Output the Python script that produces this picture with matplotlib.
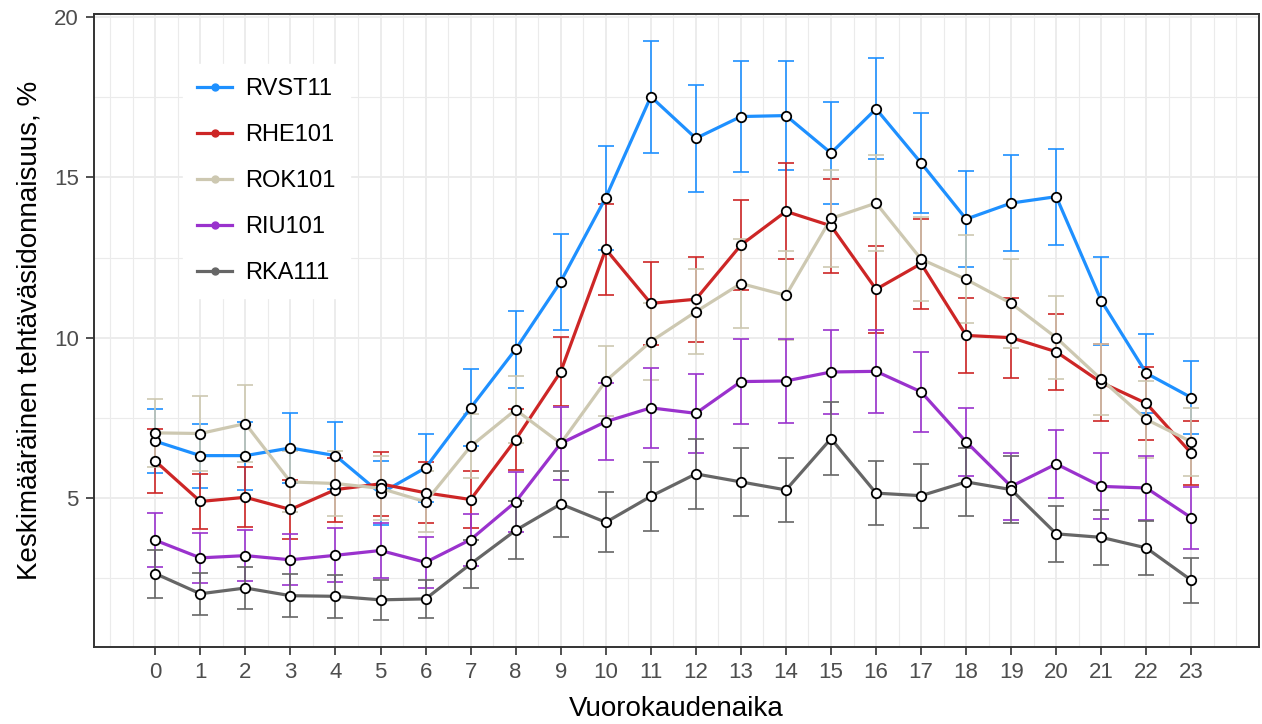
import numpy as np
import matplotlib
matplotlib.use("Agg")
import matplotlib.pyplot as plt

plt.rcParams["font.family"] = ["Liberation Sans", "DejaVu Sans"]

hours = list(range(24))

# mean task-boundness (%) by hour, with half-width of the error bars
rvst11 = [6.77, 6.32, 6.32, 6.56, 6.32, 5.14, 5.94, 7.81, 9.64, 11.75, 14.37, 17.52,
          16.22, 16.90, 16.93, 15.76, 17.14, 15.45, 13.70, 14.20, 14.40, 11.15, 8.89, 8.13]
rvst11_err = [1.0, 1.0, 1.06, 1.1, 1.05, 1.0, 1.07, 1.2, 1.2, 1.5, 1.62, 1.75,
              1.66, 1.72, 1.7, 1.6, 1.58, 1.56, 1.5, 1.5, 1.5, 1.37, 1.24, 1.15]

rhe101 = [6.15, 4.89, 5.02, 4.64, 5.26, 5.44, 5.16, 4.95, 6.82, 8.94, 12.76, 11.07,
          11.20, 12.89, 13.94, 13.49, 11.51, 12.31, 10.07, 10.00, 9.56, 8.60, 7.95, 6.39]
rhe101_err = [1.0, 0.85, 0.93, 0.93, 1.0, 1.0, 0.95, 0.88, 0.95, 1.07, 1.42, 1.3,
              1.32, 1.4, 1.5, 1.47, 1.35, 1.4, 1.17, 1.25, 1.18, 1.2, 1.13, 1.0]

rok101 = [7.03, 7.01, 7.32, 5.50, 5.45, 5.30, 4.88, 6.61, 7.75, 6.70, 8.65, 9.88,
          10.81, 11.69, 11.32, 13.72, 14.20, 12.45, 11.82, 11.07, 10.00, 8.70, 7.45, 6.75]
rok101_err = [1.05, 1.17, 1.2, 0.95, 1.0, 1.0, 0.95, 1.0, 1.05, 1.15, 1.1, 1.2,
              1.33, 1.4, 1.4, 1.5, 1.5, 1.3, 1.37, 1.4, 1.3, 1.1, 1.2, 1.06]

riu101 = [3.68, 3.13, 3.20, 3.07, 3.21, 3.36, 2.99, 3.70, 4.88, 6.70, 7.38, 7.81,
          7.64, 8.63, 8.65, 8.93, 8.95, 8.31, 6.75, 5.36, 6.06, 5.36, 5.31, 4.38]
riu101_err = [0.85, 0.77, 0.8, 0.8, 0.84, 0.85, 0.8, 0.81, 0.93, 1.15, 1.2, 1.25,
              1.23, 1.32, 1.3, 1.3, 1.3, 1.25, 1.06, 1.05, 1.07, 1.03, 1.0, 0.96]

rka111 = [2.64, 2.01, 2.19, 1.95, 1.93, 1.82, 1.85, 2.94, 3.99, 4.81, 4.24, 5.05,
          5.75, 5.50, 5.25, 6.85, 5.15, 5.07, 5.50, 5.26, 3.88, 3.77, 3.44, 2.43]
rka111_err = [0.75, 0.66, 0.65, 0.68, 0.68, 0.62, 0.6, 0.75, 0.9, 1.03, 0.94, 1.07,
              1.08, 1.06, 1.0, 1.15, 1.0, 1.0, 1.07, 1.05, 0.87, 0.85, 0.85, 0.7]

names = ["RVST11", "RHE101", "ROK101", "RIU101", "RKA111"]
values = [rvst11, rhe101, rok101, riu101, rka111]
errors = [rvst11_err, rhe101_err, rok101_err, riu101_err, rka111_err]
colors = ["#1E90FF", "#CD2626", "#CDC8B1", "#9A32CD", "#666666"]

fig = plt.figure(figsize=(12.62, 7.24), dpi=100)
ax = fig.add_axes([0.0745, 0.1064, 0.9231, 0.8743])

# grid: majors on whole hours / every 5 %, minors halfway
ax.set_xlim(-1.36, 24.37)
ax.set_ylim(0.35, 20.1)
ax.set_xticks(hours)
ax.set_xticks(np.arange(-1, 25, 0.5), minor=True)
ax.set_yticks([5, 10, 15, 20])
ax.set_yticks([2.5, 7.5, 12.5, 17.5], minor=True)
ax.grid(which="major", color="#EBEBEB", linewidth=1.3, zorder=0)
ax.grid(which="minor", color="#EBEBEB", linewidth=0.8, zorder=0)
ax.set_axisbelow(True)

for v, e, c in zip(values, errors, colors):
    ax.errorbar(hours, v, yerr=e, fmt="none", ecolor=c, elinewidth=1.2,
                capsize=6, capthick=1.2, zorder=2)

for name, v, c in zip(names, values, colors):
    ax.plot(hours, v, color=c, linewidth=2.3, zorder=3)
    # legend handle: line with a small filled dot
    ax.plot([], [], color=c, linewidth=2.3, marker="o", markersize=5,
            label=name)

for v in values:
    ax.plot(hours, v, linestyle="none", marker="o", markersize=6.8,
            markerfacecolor="white", markeredgecolor="black",
            markeredgewidth=1.3, zorder=4)

for side in ax.spines.values():
    side.set_color("#333333")
    side.set_linewidth(1.4)

ax.tick_params(which="major", length=6, width=1.2, color="#333333",
               labelcolor="#4D4D4D", labelsize=16, pad=5)
ax.tick_params(which="minor", length=0)

ax.set_xlabel("Vuorokaudenaika", fontsize=20, labelpad=9)
ax.set_ylabel("Keskimääräinen tehtäväsidonnaisuus, %", fontsize=20, labelpad=8)

leg = ax.legend(loc="upper left", bbox_to_anchor=(0.066, 0.94), fontsize=17,
                frameon=True, fancybox=False, edgecolor="white",
                framealpha=1.0, handlelength=1.5, handletextpad=0.55,
                labelspacing=1.02, borderpad=0.6)
leg.set_zorder(5)

fig.savefig("out.png", dpi=100)
